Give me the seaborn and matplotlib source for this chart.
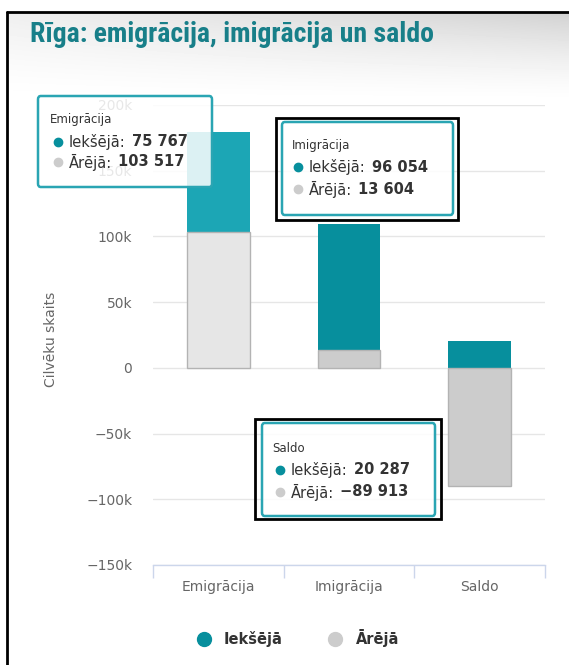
import numpy as np
import pandas as pd
import matplotlib
matplotlib.use("Agg")
import matplotlib.pyplot as plt
import seaborn as sns
from matplotlib import font_manager
from matplotlib.lines import Line2D
from matplotlib.patches import Rectangle, FancyBboxPatch
from matplotlib.ticker import FixedLocator, FuncFormatter

# data
categories = ["Emigrācija", "Imigrācija", "Saldo"]
iekseja = [75767, 96054, 20287]
areja = [103517, 13604, -89913]
series_names = ["Iekšējā", "Ārējā"]
y_ticks = [-150000, -100000, -50000, 0, 50000, 100000, 150000, 200000]
title = "Rīga: emigrācija, imigrācija un saldo"
y_label = "Cilvēku skaits"

teal = "#078f9d"
teal_hover = "#1ca6b5"
grey = "#cccccc"
grey_hover = "#e6e6e6"

df = pd.DataFrame({"kategorija": categories, "iekseja": iekseja, "areja": areja})
# teal part sits on top of the positive grey part
df["augsa"] = df["iekseja"] + df["areja"].clip(lower=0)

W, H = 569, 665
sns.set_theme(style="white")
plt.rcParams["font.family"] = ["DejaVu Sans"]

available = {f.name for f in font_manager.fontManager.ttflist}
title_font = next((f for f in ["Liberation Sans Narrow", "Roboto Condensed",
                               "Open Sans Condensed", "Noto Sans"] if f in available),
                  "DejaVu Sans")

fig = plt.figure(figsize=(W / 100, H / 100), dpi=100)


def fx(x):
    return x / W


def fy(y):
    return 1 - y / H


# grey gradient at the top of the card
bg = fig.add_axes([0, 0, 1, 1], zorder=-5)
bg.set_axis_off()
yy, xx = np.mgrid[0:H, 0:W]
shade = 0.18 * np.clip(1 - (yy - 12) / 90, 0, 1) ** 1.4 * (0.35 + 0.65 * xx / W)
shade[yy < 12] = 0
shade[:, :7] = 0
bg.imshow(1 - shade, cmap="gray", vmin=0, vmax=1, extent=(0, W, H, 0), aspect="auto")
bg.set_xlim(0, W)
bg.set_ylim(H, 0)

# black frame (left and top)
fig.add_artist(Line2D([fx(7), fx(7)], [fy(12), 0], transform=fig.transFigure, color="black", lw=2))
fig.add_artist(Line2D([fx(7), 1], [fy(12), fy(12)], transform=fig.transFigure, color="black", lw=2))

fig.text(fx(30), fy(34), title, fontsize=20, fontweight="bold", color="#187f89",
         family=[title_font, "DejaVu Sans"], va="center", ha="left")

# main chart
ax = fig.add_axes([fx(153), fy(565), fx(545) - fx(153), (565 - 105) / H])
sns.barplot(data=df, x="kategorija", y="augsa", hue="kategorija",
            palette=[teal_hover, teal, teal], width=0.48, saturation=1,
            legend=False, errorbar=None, linewidth=0, ax=ax)
sns.barplot(data=df, x="kategorija", y="areja", hue="kategorija",
            palette=[grey_hover, grey, grey], width=0.48, saturation=1,
            legend=False, errorbar=None, edgecolor="#b3b3b3", linewidth=1, ax=ax)

ax.set_xlim(-0.5, 2.5)
ax.set_ylim(-150000, 200000)
ax.set_yticks(y_ticks)
ax.yaxis.set_major_formatter(FuncFormatter(
    lambda v, p: "0" if v == 0 else ("−" if v < 0 else "") + f"{abs(v) / 1000:.0f}k"))
ax.yaxis.grid(True, color="#e6e6e6", lw=1)
ax.set_axisbelow(True)
for s in ["top", "right", "left"]:
    ax.spines[s].set_visible(False)
ax.spines["bottom"].set_color("#ccd6eb")
ax.spines["bottom"].set_linewidth(1)
ax.tick_params(axis="y", length=0, pad=15, labelsize=10, labelcolor="#666666")
ax.tick_params(axis="x", which="major", length=0, pad=11, labelsize=10, labelcolor="#666666")
ax.xaxis.set_minor_locator(FixedLocator([-0.5, 0.5, 1.5, 2.5]))
ax.tick_params(axis="x", which="minor", bottom=True, length=9, width=1,
               color="#ccd6eb", direction="out")
ax.set_xlabel("")
ax.set_ylabel(y_label, color="#666666", fontsize=10)
ax.yaxis.set_label_coords((58 - 153) / 392, 0.49)

# legend
handles = [Line2D([], [], marker="o", ls="", markersize=10, markerfacecolor=c, markeredgecolor=c)
           for c in [teal, grey]]
leg = fig.legend(handles, series_names, loc="center", bbox_to_anchor=(fx(294), fy(638)),
                 ncol=2, frameon=False, prop={"weight": "bold", "size": 10.5},
                 handletextpad=0.4, columnspacing=2.6)
for t in leg.get_texts():
    t.set_color("#333333")


def fmt(v):
    return ("−" if v < 0 else "") + f"{abs(v):,}".replace(",", " ")


renderer = fig.canvas.get_renderer()


def tooltip(box, head, row_ys, dot_x, header, vals):
    x0, y0, x1, y1 = box
    fig.add_artist(FancyBboxPatch((fx(x0), fy(y1)), fx(x1) - fx(x0), fy(y0) - fy(y1),
                                  boxstyle="round,pad=0,rounding_size=0.005",
                                  transform=fig.transFigure, facecolor=(1, 1, 1, 0.85),
                                  edgecolor="#2aa5b3", lw=1.8, zorder=5))
    fig.text(fx(head[0]), fy(head[1]), header, fontsize=8.5, color="#333333",
             va="center", ha="left", zorder=6)
    for y, name, v, c in zip(row_ys, series_names, vals, [teal, grey]):
        fig.add_artist(Line2D([fx(dot_x)], [fy(y)], marker="o", markersize=6, ls="",
                              color=c, transform=fig.transFigure, zorder=6))
        t = fig.text(fx(dot_x + 11), fy(y), name + ":", fontsize=10.5, color="#333333",
                     va="center", ha="left", zorder=6)
        w = t.get_window_extent(renderer).width
        fig.text(fx(dot_x + 11 + w + 6), fy(y), fmt(v), fontsize=10.5, fontweight="bold",
                 color="#333333", va="center", ha="left", zorder=6)


def black_box(box):
    x0, y0, x1, y1 = box
    fig.add_artist(Rectangle((fx(x0), fy(y1)), fx(x1) - fx(x0), fy(y0) - fy(y1),
                             transform=fig.transFigure, fill=False, edgecolor="black",
                             lw=2, zorder=7))


tooltip((38, 96, 212, 187), (50, 119), (142, 162), 58, categories[0], [iekseja[0], areja[0]])
black_box((276, 118, 458, 220))
tooltip((282, 122, 453, 215), (292, 145), (167, 189), 298, categories[1], [iekseja[1], areja[1]])
black_box((255, 419, 441, 519))
tooltip((262, 423, 435, 516), (272, 449), (470, 492), 280, categories[2], [iekseja[2], areja[2]])

fig.savefig("out.png", dpi=100)
